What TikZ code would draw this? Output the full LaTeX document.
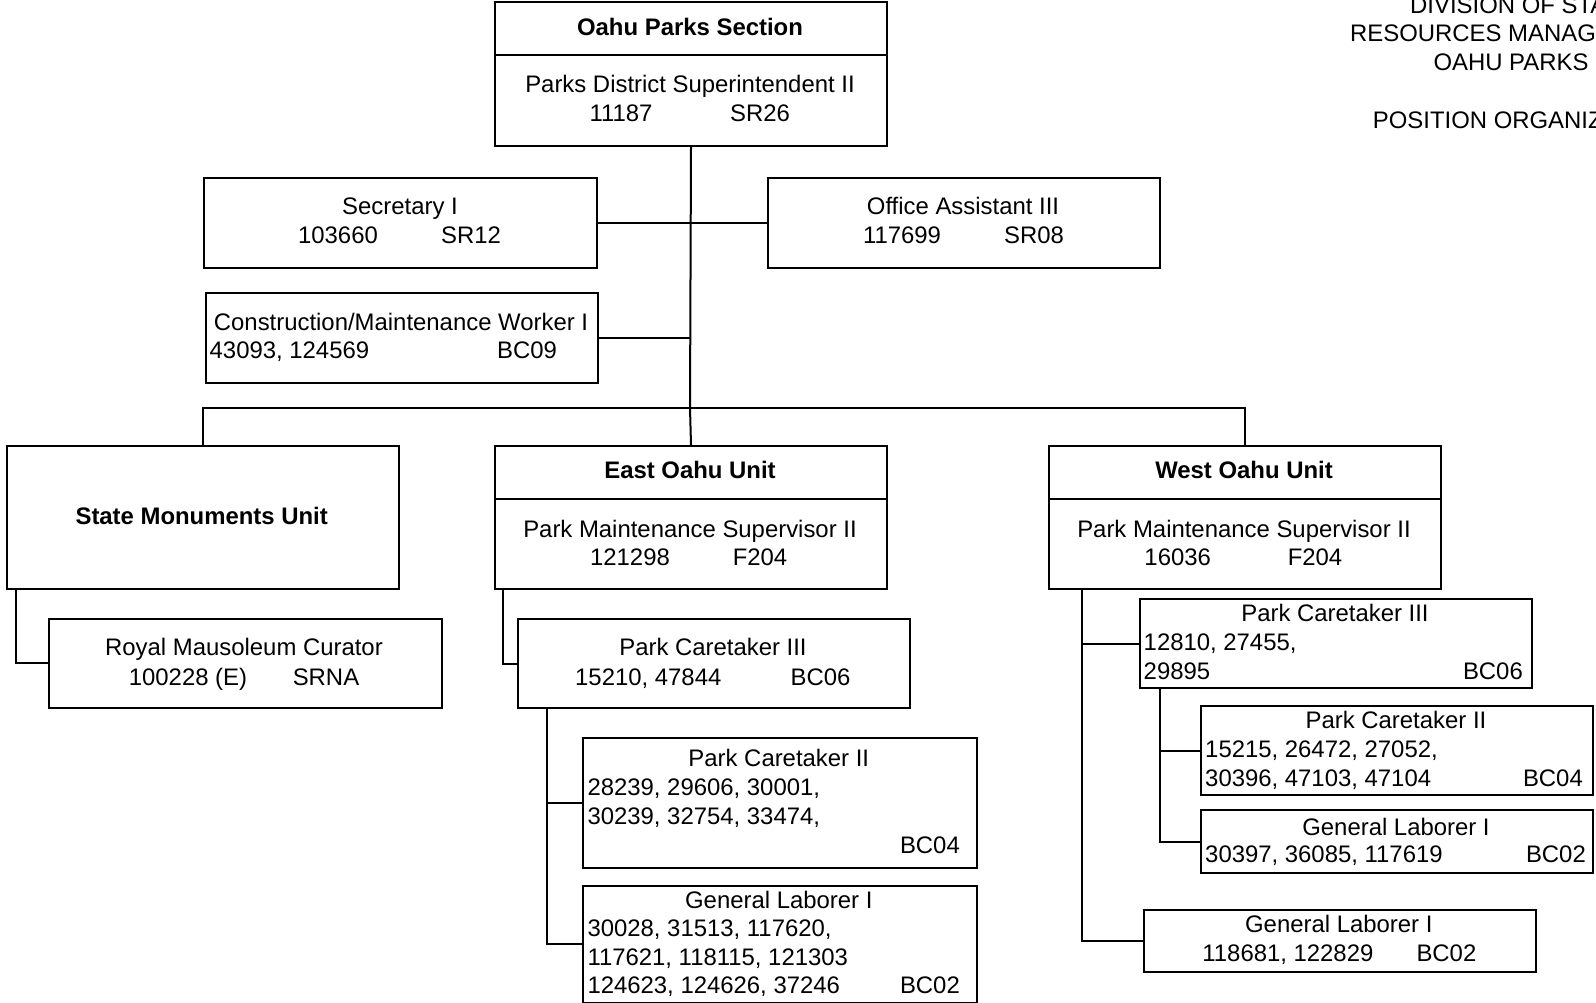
\documentclass[tikz,border=0pt]{standalone}
\usepackage{fontspec}
\setmainfont{Liberation Sans}
\begin{document}
\begin{tikzpicture}[x=1pt,y=-1pt,
  every node/.style={font=\fontsize{23.9}{28.5}\selectfont},
  box/.style={draw, line width=2pt, inner sep=0, anchor=north west},
  t/.style={inner sep=0, anchor=base},
  tl/.style={inner sep=0, anchor=base west},
  tr/.style={inner sep=0, anchor=base east},
  tb/.style={inner sep=0, anchor=base, font=\fontsize{23.9}{28.5}\selectfont\bfseries},
  link/.style={line width=2pt}]
\useasboundingbox (0,0) rectangle (1596,1003);
\clip (0,0) rectangle (1596,1003);

% ---- heading at top right (cut by the page edge)
\node[tl] (h1) at (1410,14) {DIVISION OF STA};
\node[tl] (h2) at (1350,41.8) {RESOURCES MANAG};
\node[tl] (h3) at (1433.3,70.2) {OAHU PARKS};
\node[tl] (h4) at (1372.7,128.5) {POSITION ORGANIZ};

% ---- boxes
\node[box, minimum width=392pt, minimum height=144pt] (top) at (494,1) {};
\node[box, minimum width=393pt, minimum height=90pt] (sec) at (203,177) {};
\node[box, minimum width=392pt, minimum height=90pt] (oa) at (767,177) {};
\node[box, minimum width=392pt, minimum height=90pt] (cmw) at (205,292) {};
\node[box, minimum width=392.5pt, minimum height=143pt] (smu) at (5.5,445) {};
\node[box, minimum width=392pt, minimum height=143pt] (east) at (494,445) {};
\node[box, minimum width=392.5pt, minimum height=143pt] (west) at (1047.5,445) {};
\node[box, minimum width=393pt, minimum height=89pt] (rmc) at (47.7,617.7) {};
\node[box, minimum width=392.6pt, minimum height=89.6pt] (epc3) at (516.7,617.7) {};
\node[box, minimum width=393.4pt, minimum height=130.6pt] (epc2) at (582.3,736.7) {};
\node[box, minimum width=393.4pt, minimum height=116.7pt] (egl) at (582.3,885) {};
\node[box, minimum width=392.4pt, minimum height=89pt] (wpc3) at (1138.6,598.3) {};
\node[box, minimum width=391.7pt, minimum height=89pt] (wpc2) at (1200.3,705) {};
\node[box, minimum width=391.7pt, minimum height=63pt] (wgl1) at (1200.3,809.3) {};
\node[box, minimum width=392.6pt, minimum height=61.4pt] (wgl2) at (1142.8,909.3) {};

% ---- dividers
\draw[link] (top.west |- 0,55) -- (top.east |- 0,55);
\draw[link] (east.west |- 0,499) -- (east.east |- 0,499);
\draw[link] (west.west |- 0,499) -- (west.east |- 0,499);

% ---- texts
\node[tb] (top1) at (690,36) {Oahu Parks Section};
\node[t] (top2) at (690,93) {Parks District Superintendent II};
\node[t] (top3) at (621,121.5) {11187};
\node[t] (top4) at (760,121.5) {SR26};

\node[t] (sec1) at (400,215) {Secretary I};
\node[t] (sec2) at (338,243.5) {103660};
\node[t] (sec3) at (471,243.5) {SR12};

\node[t] (oa1) at (963,215) {Office Assistant III};
\node[t] (oa2) at (902,243.5) {117699};
\node[t] (oa3) at (1034,243.5) {SR08};

\node[t] (cmw1) at (401,330) {Construction/Maintenance Worker I};
\node[tl] (cmw2) at (209.5,358.5) {43093, 124569};
\node[t] (cmw3) at (527,358.5) {BC09};

\node[tb] (smu1) at (201.7,524.5) {State Monuments Unit};

\node[tb] (east1) at (690,478.5) {East Oahu Unit};
\node[t] (east2) at (690,537) {Park Maintenance Supervisor II};
\node[t] (east3) at (630,565.3) {121298};
\node[t] (east4) at (760,565.3) {F204};

\node[tb] (west1) at (1244,478.5) {West Oahu Unit};
\node[t] (west2) at (1244,537) {Park Maintenance Supervisor II};
\node[t] (west3) at (1177.7,565.3) {16036};
\node[t] (west4) at (1315,565.3) {F204};

\node[t] (rmc1) at (244,655.2) {Royal Mausoleum Curator};
\node[t] (rmc2) at (188,685.2) {100228 (E)};
\node[t] (rmc3) at (326,685.2) {SRNA};

\node[t] (epc31) at (713,655.2) {Park Caretaker III};
\node[t] (epc32) at (648.3,685.2) {15210, 47844};
\node[t] (epc33) at (820.5,685.2) {BC06};

\node[t] (epc21) at (778.8,766.8) {Park Caretaker II};
\node[tl] (epc22) at (587.3,795.8) {28239, 29606, 30001,};
\node[tl] (epc23) at (587.3,824.5) {30239, 32754, 33474,};
\node[tr] (epc24) at (960,853.5) {BC04};

\node[t] (egl1) at (778.8,908.5) {General Laborer I};
\node[tl] (egl2) at (587.3,936.8) {30028, 31513, 117620,};
\node[tl] (egl3) at (587.3,965.2) {117621, 118115, 121303};
\node[tl] (egl4) at (587.3,993.5) {124623, 124626, 37246};
\node[tr] (egl5) at (960,993.5) {BC02};

\node[t] (wpc31) at (1335,621.8) {Park Caretaker III};
\node[tl] (wpc32) at (1143.5,650.8) {12810, 27455,};
\node[tl] (wpc33) at (1143.5,679.2) {29895};
\node[tr] (wpc34) at (1523,679.2) {BC06};

\node[t] (wpc21) at (1396,728.5) {Park Caretaker II};
\node[tl] (wpc22) at (1205,757.8) {15215, 26472, 27052,};
\node[tl] (wpc23) at (1205,786.8) {30396, 47103, 47104};
\node[tr] (wpc24) at (1583,786.8) {BC04};

\node[t] (wgl11) at (1396,835.2) {General Laborer I};
\node[tl] (wgl12) at (1205,862.5) {30397, 36085, 117619};
\node[tr] (wgl13) at (1586,862.5) {BC02};

\node[t] (wgl21) at (1338.8,932.5) {General Laborer I};
\node[t] (wgl22) at (1287.9,961.2) {118681, 122829};
\node[t] (wgl23) at (1446.4,961.2) {BC02};

% ---- connectors
\coordinate (bus) at (690,408);
\draw[link] (top.south) -- (bus);
\draw[link] (sec.east) -- (oa.west);
\draw[link] (cmw.east) -- (cmw.east -| bus);
\draw[link] (smu.north) |- (bus) -| (west.north);
\draw[link] (bus) -- (east.north);

\coordinate (smuc) at (16,588);
\draw[link] (smuc) |- (rmc.west);
\coordinate (eastc) at (503.3,588);
\draw[link] (eastc) |- (epc3.west);
\coordinate (epc3c) at (546.7,707.3);
\draw[link] (epc3c) |- (egl.west);
\draw[link] (epc3c |- epc2.west) -- (epc2.west);
\coordinate (westc) at (1081.8,588);
\draw[link] (westc) |- (wgl2.west);
\draw[link] (westc |- wpc3.west) -- (wpc3.west);
\coordinate (wpc3c) at (1159.9,687.3);
\draw[link] (wpc3c) |- (wgl1.west);
\draw[link] (wpc3c |- wpc2.west) -- (wpc2.west);
\end{tikzpicture}
\end{document}
